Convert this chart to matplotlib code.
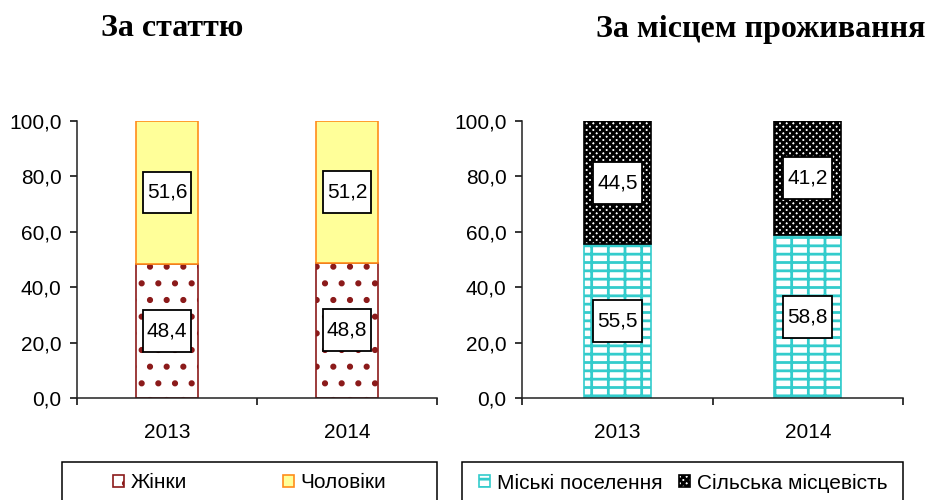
import numpy as np
import matplotlib.pyplot as plt
from matplotlib.path import Path
from matplotlib.patches import Rectangle
from matplotlib.ticker import FuncFormatter, FixedLocator

plt.rcParams['font.family'] = ['Liberation Sans', 'DejaVu Sans']
plt.rcParams['hatch.linewidth'] = 2.0

years = ['2013', '2014']
women = [48.4, 48.8]
men = [51.6, 51.2]
urban = [55.5, 58.8]
rural = [44.5, 41.2]

FS = 15


def comma(v):
    return f'{v:.1f}'.replace('.', ',')


# Excel-like label box: narrow side padding, tall top/bottom padding
def label_box(x0, y0, width, height, mutation_size):
    px = 0.2 * mutation_size
    py = 0.55 * mutation_size
    return Path([(x0 - px, y0 - py), (x0 + width + px, y0 - py),
                 (x0 + width + px, y0 + height + py), (x0 - px, y0 + height + py),
                 (x0 - px, y0 - py)], closed=True)


def setup_axis(ax):
    ax.set_xlim(0, 2)
    ax.set_ylim(0, 100)
    ax.set_yticks(np.arange(0, 101, 20))
    ax.yaxis.set_major_formatter(FuncFormatter(lambda v, p: comma(v)))
    ax.set_xticks(np.arange(len(years)) + 0.5)
    ax.set_xticklabels(years)
    ax.xaxis.set_minor_locator(FixedLocator([0, 1, 2]))
    ax.tick_params(axis='x', which='major', length=0, pad=18, labelsize=FS)
    ax.tick_params(axis='x', which='minor', length=5, width=1.1, direction='out')
    ax.tick_params(axis='y', length=5, width=1.1, pad=6, labelsize=FS)
    for s in ['top', 'right']:
        ax.spines[s].set_visible(False)
    for s in ['left', 'bottom']:
        ax.spines[s].set_linewidth(1.1)
        ax.spines[s].set_color('#222222')


def add_labels(ax, cont, values):
    ax.bar_label(cont, labels=[comma(v) for v in values], label_type='center',
                 fontsize=FS,
                 bbox=dict(boxstyle=label_box, facecolor='white',
                           edgecolor='black', linewidth=1.3))


fig = plt.figure(figsize=(9.28, 5.0), dpi=100)
ax1 = fig.add_axes([0.083, 0.204, 0.388, 0.554])
ax2 = fig.add_axes([0.5625, 0.204, 0.4106, 0.554])

x = np.arange(len(years)) + 0.5

# --- by sex ---
b_women = ax1.bar(x, women, width=0.34, facecolor='white', edgecolor='#8B1A1A',
                  hatch='.', linewidth=1.2, label='Жінки')
b_men = ax1.bar(x, men, width=0.34, bottom=women, facecolor='#FFFF99',
                edgecolor='#FF8C1A', linewidth=1.2, label='Чоловіки')
add_labels(ax1, b_women, women)
add_labels(ax1, b_men, men)
setup_axis(ax1)

# --- by place of residence ---
b_urban = ax2.bar(x, urban, width=0.35, facecolor='white', edgecolor='#33CCCC',
                  hatch='+-', linewidth=1.2, label='Міські поселення')
b_rural = ax2.bar(x, rural, width=0.35, bottom=urban, facecolor='white',
                  edgecolor='black', hatch='xxxxx', linewidth=1.2,
                  label='Сільська місцевість')
add_labels(ax2, b_urban, urban)
add_labels(ax2, b_rural, rural)
setup_axis(ax2)

# titles
fig.text(0.186, 0.942, 'За статтю', ha='center', va='center',
         family='Liberation Serif', weight='bold', fontsize=23)
fig.text(0.820, 0.942, 'За місцем проживання', ha='center', va='center',
         family='Liberation Serif', weight='bold', fontsize=23)

# legends with fixed frames
fig.legend([b_women, b_men], ['Жінки', 'Чоловіки'], loc='center',
           bbox_to_anchor=(0.269, 0.034), ncol=2, frameon=False, fontsize=FS,
           handlelength=0.55, handleheight=0.55, handletextpad=0.3,
           columnspacing=4.6)
fig.legend([b_urban, b_rural], ['Міські поселення', 'Сільська місцевість'],
           loc='center', bbox_to_anchor=(0.736, 0.034), ncol=2, frameon=False,
           fontsize=FS, handlelength=0.55, handleheight=0.55,
           handletextpad=0.3, columnspacing=0.8)
fig.add_artist(Rectangle((0.0668, -0.004), 0.4041, 0.08, transform=fig.transFigure,
                         fill=False, edgecolor='black', linewidth=1.1))
fig.add_artist(Rectangle((0.4978, -0.004), 0.4752, 0.08, transform=fig.transFigure,
                         fill=False, edgecolor='black', linewidth=1.1))

fig.savefig('out.png', dpi=100)
